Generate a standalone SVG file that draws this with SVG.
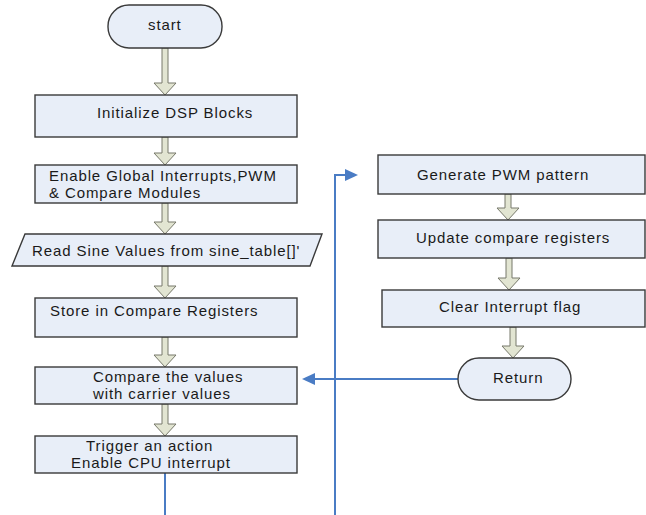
<svg xmlns="http://www.w3.org/2000/svg" width="646" height="515" viewBox="0 0 646 515">
<defs>
<style>
.box{fill:#e8eef8;stroke:#3a3a3a;stroke-width:1.4}
.t{font-family:"Liberation Sans",Arial,sans-serif;font-size:15px;letter-spacing:0.9px;fill:#1a1a1a}
.ha{fill:#e2e5d2;stroke:#77786a;stroke-width:1}
.blue{fill:none;stroke:#4a7cc4;stroke-width:2}
</style>
</defs>
<rect width="646" height="515" fill="#ffffff"/>

<g id="connectors">
<path class="ha" d="M162,48 H168 V83 H176 L165,95 L154,83 H162 Z"/>
<path class="ha" d="M162,137 H168 V153 H176 L165,165 L154,153 H162 Z"/>
<path class="ha" d="M162,203 H168 V222 H176 L165,234 L154,222 H162 Z"/>
<path class="ha" d="M162,266 H168 V286 H176 L165,298 L154,286 H162 Z"/>
<path class="ha" d="M162,337 H168 V355 H176 L165,367 L154,355 H162 Z"/>
<path class="ha" d="M162,404 H168 V424 H176 L165,436 L154,424 H162 Z"/>
<path class="ha" d="M505,194 H511 V208 H519 L508,220 L497,208 H505 Z"/>
<path class="ha" d="M506,258 H512 V278 H520 L509,290 L498,278 H506 Z"/>
<path class="ha" d="M510,327 H516 V346 H524 L513,358 L502,346 H510 Z"/>
<line class="blue" x1="165" y1="473" x2="165" y2="515"/>
<polyline class="blue" points="335,515 335,175 346,175"/>
<polygon points="345,169 358,175 345,181" fill="#4a7cc4"/>
<line class="blue" x1="458" y1="379" x2="312" y2="379"/>
<polygon points="302,379 315,373 315,385" fill="#4a7cc4"/>
</g>

<g id="start">
<rect class="box" x="108" y="5" width="114" height="43" rx="21" ry="21"/>
<text class="t" x="148" y="30">start</text>
</g>
<g id="init">
<rect class="box" x="35" y="95" width="262" height="42"/>
<text class="t" x="97" y="118">Initialize DSP Blocks</text>
</g>
<g id="enable">
<rect class="box" x="35" y="165" width="262" height="38"/>
<text class="t" x="49" y="181">Enable Global Interrupts,PWM</text>
<text class="t" x="49" y="198">&amp; Compare Modules</text>
</g>
<g id="read">
<polygon class="box" points="25,234 322,234 310,266 12,266"/>
<text class="t" x="32" y="256">Read Sine Values from sine_table[]'</text>
</g>
<g id="store">
<rect class="box" x="35" y="298" width="262" height="39"/>
<text class="t" x="50" y="316">Store in Compare Registers</text>
</g>
<g id="compare">
<rect class="box" x="35" y="367" width="262" height="37"/>
<text class="t" x="93" y="382">Compare the values</text>
<text class="t" x="93" y="399">with carrier values</text>
</g>
<g id="trigger">
<rect class="box" x="35" y="436" width="262" height="37"/>
<text class="t" x="86" y="451">Trigger an action</text>
<text class="t" x="71" y="468">Enable CPU interrupt</text>
</g>
<g id="generate">
<rect class="box" x="378" y="155" width="267" height="39"/>
<text class="t" x="417" y="180">Generate PWM pattern</text>
</g>
<g id="update">
<rect class="box" x="378" y="220" width="267" height="38"/>
<text class="t" x="416" y="243">Update compare registers</text>
</g>
<g id="clear">
<rect class="box" x="382" y="290" width="263" height="37"/>
<text class="t" x="439" y="312">Clear Interrupt flag</text>
</g>
<g id="return">
<rect class="box" x="458" y="358" width="113" height="42" rx="21" ry="21"/>
<text class="t" x="493" y="383">Return</text>
</g>
</svg>
